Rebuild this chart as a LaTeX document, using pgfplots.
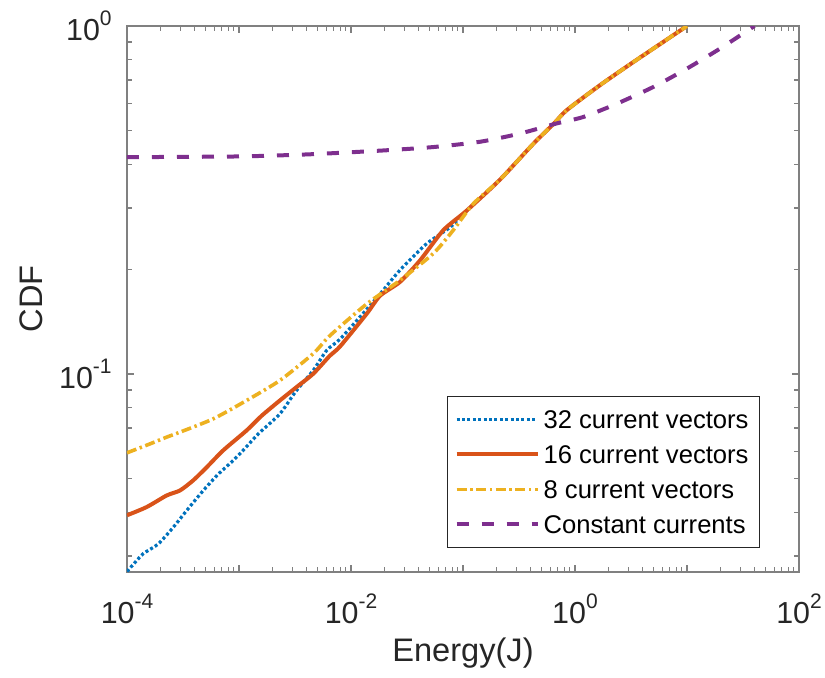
\documentclass[border=0pt]{standalone}
\usepackage{fontspec}
\setmainfont{Liberation Sans}
\usepackage{pgfplots}
\pgfplotsset{compat=1.18}
\definecolor{mblue}{rgb}{0,0.447,0.741}
\definecolor{morange}{rgb}{0.85,0.325,0.098}
\definecolor{myellow}{rgb}{0.929,0.694,0.125}
\definecolor{mpurple}{rgb}{0.494,0.184,0.556}
\definecolor{axgray}{rgb}{0.5,0.5,0.5}
\definecolor{txt}{rgb}{0.15,0.15,0.15}
\newcommand{\pw}[1]{10\raisebox{7.5pt}{\fontsize{10.5}{12}\selectfont #1}}
\begin{document}
\begin{tikzpicture}
\useasboundingbox (-63.5pt,-52.5pt) rectangle (349pt,286pt);
\begin{axis}[
  at={(0,0)}, anchor=south west,
  scale only axis, width=336pt, height=273pt,
  xmode=log, ymode=log,
  xmin=1e-4, xmax=1e2, ymin=0.027, ymax=1,
  xtick={1e-4,1e-3,1e-2,1e-1,1,10,100},
  xticklabels={\pw{-4},,\pw{-2},,\pw{0},,\pw{2}},
  minor xtick={2e-4,3e-4,4e-4,5e-4,6e-4,7e-4,8e-4,9e-4,
               2e-3,3e-3,4e-3,5e-3,6e-3,7e-3,8e-3,9e-3,
               2e-2,3e-2,4e-2,5e-2,6e-2,7e-2,8e-2,9e-2,
               0.2,0.3,0.4,0.5,0.6,0.7,0.8,0.9,
               2,3,4,5,6,7,8,9,
               20,30,40,50,60,70,80,90},
  ytick={0.1,1},
  yticklabels={\pw{-1},\pw{0}},
  minor ytick={0.03,0.04,0.05,0.06,0.07,0.08,0.09,0.2,0.3,0.4,0.5,0.6,0.7,0.8,0.9},
  tick align=inside,
  major tick length=3.5pt, minor tick length=2.5pt,
  every tick/.style={axgray, line width=0.6pt},
  axis line style={axgray, line width=0.8pt},
  xticklabel style={anchor=base, yshift=-25.5pt, font=\fontsize{15.2}{18}\selectfont, text=txt},
  yticklabel style={anchor=east, inner sep=0pt, xshift=-7.5pt, font=\fontsize{15.2}{18}\selectfont, text=txt},
  xlabel={Energy(J)},
  ylabel={CDF},
  xlabel style={at={(axis description cs:0.5,-0.163)}, anchor=base, font=\fontsize{16.3}{19}\selectfont, text=txt},
  ylabel style={at={(axis description cs:-0.125,0.5)}, anchor=base, font=\fontsize{16.3}{19}\selectfont, text=txt},
  legend image code/.code={\draw[#1] (0pt,0pt) -- (40.5pt,0pt);},
  legend cell align=left,
  legend style={at={(rel axis cs:0.942,0.044)}, anchor=south east,
    font=\fontsize{12.8}{15}\selectfont, draw=black!85, line width=0.5pt,
    inner xsep=3.5pt, inner ysep=6pt, row sep=6.5pt,
    nodes={inner xsep=2pt, inner ysep=1pt, text height=9pt, text depth=0pt}},
]
\addplot[color=mblue, line width=1.6pt, dash pattern=on 1.5pt off 1.2pt, smooth, tension=0.4] coordinates {
(1e-4,0.0271) (1.15e-4,0.0285) (1.40e-4,0.0305) (1.9e-4,0.0325) (2.59e-4,0.0363)
(3.4e-4,0.0405) (4.80e-4,0.0463) (6.5e-4,0.0515) (8.89e-4,0.0565) (1.09e-3,0.0604)
(1.5e-3,0.0675) (2.32e-3,0.0769) (3.2e-3,0.0890) (4.6e-3,0.1025) (6.07e-3,0.117) (7.98e-3,0.126)
(0.0125,0.148) (0.0182,0.170) (0.0274,0.199) (0.0474,0.237) (0.0766,0.264)
(0.108,0.295) (0.214,0.362) (0.425,0.459) (0.65,0.525) (0.843,0.573) (1.67,0.676)
(3.32,0.788) (10,1)};
\addlegendentry{32 current vectors}
\addplot[color=morange, line width=2pt, smooth, tension=0.4] coordinates {
(1e-4,0.0393) (1.5e-4,0.0415) (2.26e-4,0.0448) (2.97e-4,0.0463) (3.9e-4,0.0495)
(5.15e-4,0.0540) (7.24e-4,0.0604) (1.17e-3,0.0689) (1.6e-3,0.0760) (2.32e-3,0.0840)
(3.27e-3,0.0918) (4.6e-3,0.1002) (6.49e-3,0.113) (7.98e-3,0.120) (0.0138,0.149) (0.0182,0.168)
(0.0274,0.184) (0.0413,0.212) (0.0667,0.259) (0.108,0.295) (0.214,0.362)
(0.425,0.459) (0.65,0.525) (0.843,0.573) (1.67,0.676) (3.32,0.788) (10,1)};
\addlegendentry{16 current vectors}
\addplot[color=myellow, line width=1.8pt, dash pattern=on 5pt off 1.8pt on 1.2pt off 1.8pt, smooth, tension=0.4] coordinates {
(1e-4,0.0594) (1.6e-4,0.0630) (2.26e-4,0.0659) (2.97e-4,0.0681) (5.9e-4,0.0744) (1.17e-3,0.0840)
(2.32e-3,0.0959) (4.6e-3,0.1145) (6.49e-3,0.129) (0.0138,0.159) (0.0274,0.186) (0.0543,0.222)
(0.0818,0.259) (0.124,0.309) (0.214,0.362) (0.425,0.459) (0.65,0.525) (0.843,0.573)
(1.67,0.676) (3.32,0.788) (10,1)};
\addlegendentry{8 current vectors}
\addplot[color=mpurple, line width=2pt, dash pattern=on 6pt off 6.5pt, smooth, tension=0.4] coordinates {
(1e-4,0.420) (1e-3,0.422) (4.3e-3,0.428) (0.0194,0.439) (0.0543,0.449)
(0.142,0.465) (0.323,0.491) (0.687,0.525) (1.19,0.548) (2.36,0.598)
(5.0,0.668) (9.94,0.754) (19.7,0.861) (40,1)};
\addlegendentry{Constant currents}
\end{axis}
\end{tikzpicture}
\end{document}
